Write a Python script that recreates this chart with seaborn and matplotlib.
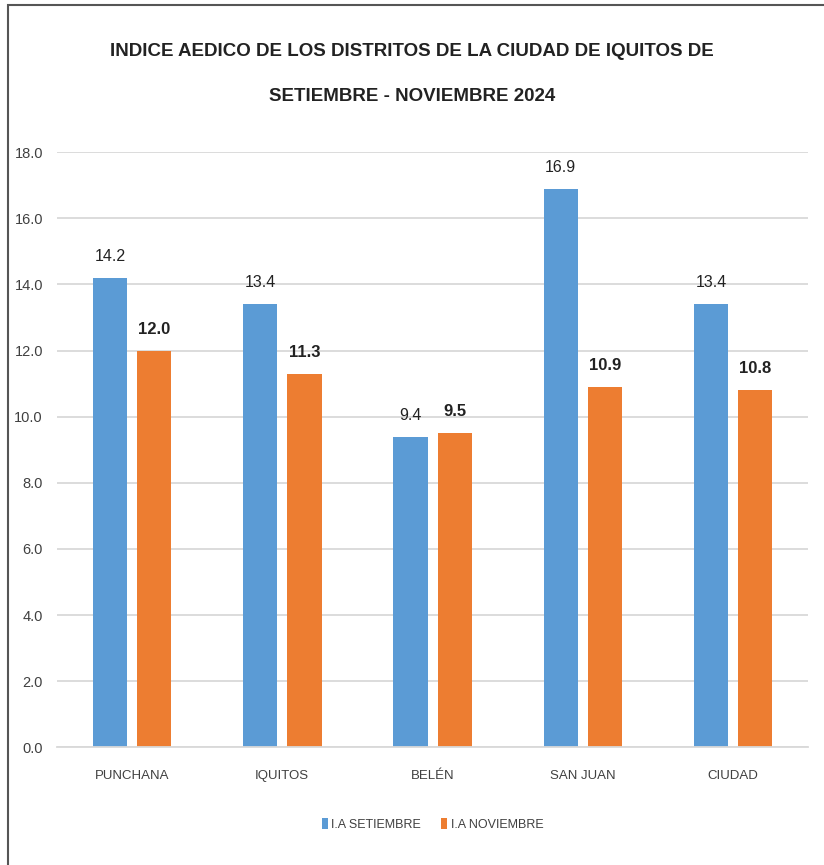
import pandas as pd
import matplotlib.pyplot as plt
import seaborn as sns
from matplotlib.patches import Rectangle

# --- datos ---
distritos = ['PUNCHANA', 'IQUITOS', 'BELÉN', 'SAN JUAN', 'CIUDAD']
ia_setiembre = [14.2, 13.4, 9.4, 16.9, 13.4]
ia_noviembre = [12.0, 11.3, 9.5, 10.9, 10.8]
series = ['I.A SETIEMBRE', 'I.A NOVIEMBRE']
colores = ['#5B9BD5', '#ED7D31']
y_ticks = [0, 2, 4, 6, 8, 10, 12, 14, 16, 18]

df = pd.DataFrame({
    'Distrito': distritos * 2,
    'Serie': [series[0]] * len(distritos) + [series[1]] * len(distritos),
    'Valor': ia_setiembre + ia_noviembre,
})

sns.set_style('white')
plt.rcParams['font.family'] = ['Liberation Sans', 'DejaVu Sans']

fig = plt.figure(figsize=(8.24, 8.65), dpi=100)
ax = fig.add_axes([0.069, 0.136, 0.912, 0.688])

sns.barplot(data=df, x='Distrito', y='Valor', hue='Serie', palette=colores,
            saturation=1, linewidth=0, width=0.59, gap=0.23, ax=ax, legend=True)

# etiquetas de valores
ax.bar_label(ax.containers[0], fmt='%.1f', padding=10, fontsize=11.5, color='#222222')
ax.bar_label(ax.containers[1], fmt='%.1f', padding=10, fontsize=12,
             fontweight='bold', color='#222222')

ax.set_ylim(0, 18)
ax.set_yticks(y_ticks)
ax.set_yticklabels([f'{v:.1f}' for v in y_ticks], fontsize=10.5, color='#404040')
ax.tick_params(axis='x', labelsize=9.5, colors='#404040', length=0, pad=16)
ax.tick_params(axis='y', length=0, pad=10)
ax.set_xlabel('')
ax.set_ylabel('')
ax.yaxis.grid(True, color='#D9D9D9', linewidth=1.3)
ax.set_axisbelow(True)
for lado in ['top', 'right', 'left']:
    ax.spines[lado].set_visible(False)
ax.spines['bottom'].set_color('#D9D9D9')
ax.spines['bottom'].set_linewidth(1.3)
ax.set_xlim(-0.5, 4.5)

leg = ax.legend(loc='upper center', bbox_to_anchor=(0.5, -0.1), ncol=2,
                frameon=False, fontsize=9, handlelength=0.45, handleheight=1.0,
                handletextpad=0.3, columnspacing=1.6)
for t in leg.get_texts():
    t.set_color('#404040')

fig.text(0.5, 0.94, 'INDICE AEDICO DE LOS DISTRITOS DE LA CIUDAD DE IQUITOS DE',
         ha='center', va='center', fontsize=13.5, fontweight='bold', color='#222222')
fig.text(0.5, 0.888, 'SETIEMBRE - NOVIEMBRE 2024',
         ha='center', va='center', fontsize=13.5, fontweight='bold', color='#222222')

# marco
fig.patches.append(Rectangle((0.01, -0.01), 0.995, 1.004, transform=fig.transFigure,
                             fill=False, edgecolor='#555555', linewidth=1.5))

fig.savefig('out.png', dpi=100)
